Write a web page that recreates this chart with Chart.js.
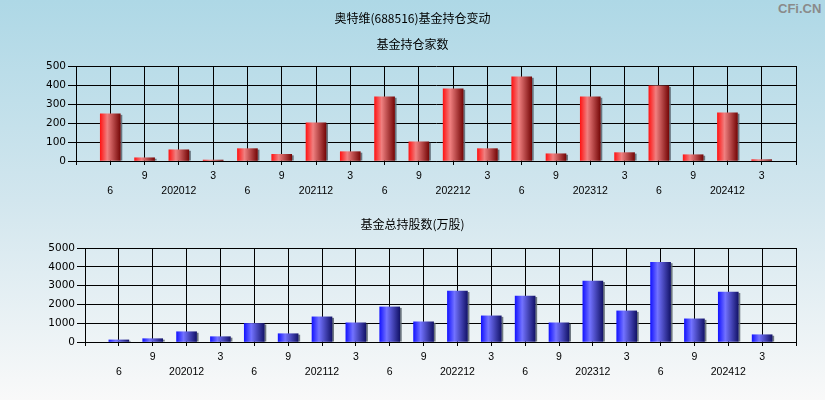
<!DOCTYPE html>
<html><head><meta charset="utf-8">
<script src="https://cdn.jsdelivr.net/npm/chart.js@4/dist/chart.umd.min.js"></script>
<style>
html,body{margin:0;padding:0;}
body{width:825px;height:400px;overflow:hidden;position:relative;
 background:linear-gradient(to bottom,#aed8e6 0%,#d2e6ee 50%,#f9f9f9 100%);}
.box{position:absolute;left:0;width:825px;height:200px;}
#wm{position:absolute;left:778px;top:1px;font:bold 13px "Liberation Sans",sans-serif;color:#8a8a8a;}
</style></head>
<body>
<div id="wm">CFi.CN</div>
<div class="box" style="top:0"><canvas id="c1" width="825" height="200"></canvas></div>
<div class="box" style="top:200px"><canvas id="c2" width="825" height="200"></canvas></div>
<script>
const periods = ['2020-06','2020-09','2020-12','2021-03','2021-06','2021-09','2021-12','2022-03','2022-06','2022-09','2022-12','2023-03','2023-06','2023-09','2023-12','2024-03','2024-06','2024-09','2024-12','2025-03'];
const tickLabels = ['6','9','202012','3','6','9','202112','3','6','9','202212','3','6','9','202312','3','6','9','202412','3'];
const fundCount = [248,17,59,5,65,35,201,49,338,101,380,65,443,38,338,44,395,33,254,7];
const sharesHeld = [110,176,545,282,985,440,1337,1020,1866,1073,2711,1390,2447,1020,3240,1654,4244,1231,2658,386];
const mainTitle = '奥特维(688516)基金持仓变动';
const subTitle1 = '基金持仓家数';
const subTitle2 = '基金总持股数(万股)';

const CJK = '"Noto Sans CJK SC", sans-serif';
Chart.defaults.font.family = '"Liberation Sans", Arial, sans-serif';
Chart.defaults.color = '#000';

const shadowPlugin = {
  id: 'barShadow',
  beforeDatasetsDraw(chart) {
    const ctx = chart.ctx;
    const meta = chart.getDatasetMeta(0);
    const data = chart.data.datasets[0].data;
    ctx.save();
    ctx.fillStyle = 'rgba(95,105,115,0.9)';
    meta.data.forEach((el, i) => {
      if (data[i] == null) return;
      const p = el.getProps(['x','y','base','width'], true);
      const h = p.base - p.y - 1;
      if (h > 0) ctx.fillRect(p.x + p.width / 2, p.y + 1, 2, h);
    });
    ctx.restore();
  }
};

function gradientFor(stops) {
  return (c) => {
    if (c.type !== 'data') return stops[0];
    const xs = c.chart.scales.x;
    if (!xs || !isFinite(xs.left)) return stops[0];
    const x = xs.getPixelForValue(c.dataIndex);
    if (!isFinite(x)) return stops[0];
    const g = c.chart.ctx.createLinearGradient(x - 10, 0, x + 10, 0);
    g.addColorStop(0, stops[0]);
    g.addColorStop(0.35, stops[1]);
    g.addColorStop(1, stops[2]);
    return g;
  };
}

function makeChart(id, values, stops, yMax, yStep, yWidth, xHeight, titleCfg, subtitleCfg) {
  const labels = ['', ...periods, ''];
  const data = [null, ...values, null];
  return new Chart(document.getElementById(id), {
    type: 'bar',
    data: {
      labels,
      datasets: [{
        data,
        backgroundColor: gradientFor(stops),
        borderWidth: 0,
        barThickness: 20
      }]
    },
    plugins: [shadowPlugin],
    options: {
      responsive: false,
      animation: false,
      layout: { padding: 0 },
      plugins: {
        legend: { display: false },
        tooltip: { enabled: false },
        title: titleCfg,
        subtitle: subtitleCfg
      },
      scales: {
        x: {
          type: 'category',
          offset: false,
          grid: { offset: false, color: '#000', lineWidth: 1, tickLength: 4, drawTicks: true },
          border: { color: '#000', width: 1 },
          ticks: {
            autoSkip: false, maxRotation: 0, minRotation: 0, padding: 3,
            color: '#000',
            font: { size: 10.5, lineHeight: 1.45 },
            callback: (v, i) => {
              if (i === 0 || i === labels.length - 1) return '';
              const k = i - 1;
              return k % 2 === 0 ? ['', tickLabels[k]] : [tickLabels[k], ''];
            }
          },
          afterFit: (s) => { s.height = xHeight; }
        },
        y: {
          min: 0, max: yMax,
          grid: { color: '#000', lineWidth: 1, tickLength: 8, drawTicks: true },
          border: { color: '#000', width: 1 },
          ticks: { stepSize: yStep, padding: 2, color: '#000',
            font: { family: '"DejaVu Sans", Verdana, sans-serif', size: 10.5 },
            callback: (v) => String(v) },
          afterFit: (s) => { s.width = yWidth; }
        },
        spacer: {
          type: 'linear', position: 'right', display: true,
          grid: { display: false, drawTicks: false },
          border: { display: false },
          ticks: { display: false },
          afterFit: (s) => { s.width = 29; }
        }
      }
    }
  });
}

const tFont = { family: CJK, size: 12, weight: 'normal', lineHeight: 1.2 };

makeChart('c1', fundCount, ['#ff1616', '#f08080', '#760808'], 500, 100, 76, 39,
  { display: true, text: mainTitle, color: '#000', font: tFont, padding: { top: 10.8, bottom: 0 } },
  { display: true, text: subTitle1, color: '#000', font: tFont, padding: { top: 11.6, bottom: 14.8 } });

makeChart('c2', sharesHeld, ['#1616ff', '#7272ff', '#14146a'], 5000, 1000, 85, 58,
  { display: true, text: subTitle2, color: '#000', font: tFont, padding: { top: 16.8, bottom: 16.8 } },
  { display: false });
</script>
</body></html>
